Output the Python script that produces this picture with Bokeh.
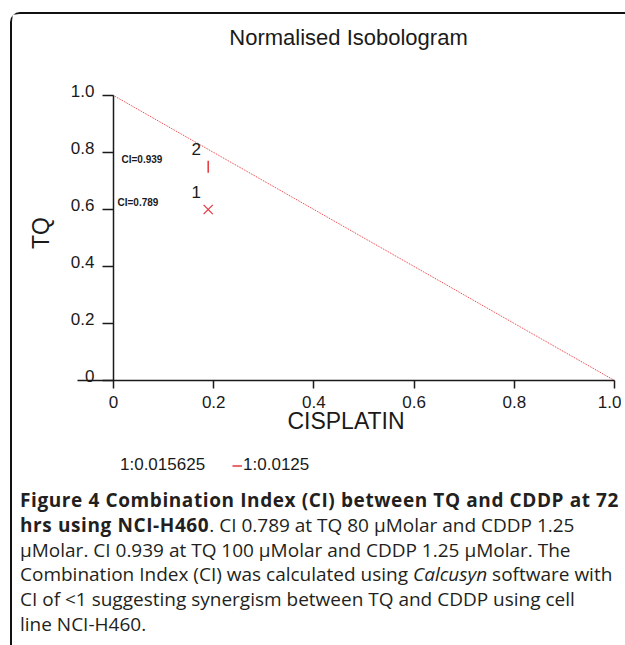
import math
from bokeh.plotting import figure
from bokeh.models import (FixedTicker, Legend, LegendItem, Div, Label,
                          LinearAxis, Range1d)
from bokeh.layouts import column
from bokeh.core.properties import value
from bokeh.embed import file_html
from bokeh.resources import INLINE

# ---------------- data ----------------
title_text = "Normalised Isobologram"
x_label = "CISPLATIN"
y_label = "TQ"
tick_values = [0, 0.2, 0.4, 0.6, 0.8, 1.0]
tick_labels = ["0", "0.2", "0.4", "0.6", "0.8", "1.0"]
isobole_x = [0.0, 1.0]
isobole_y = [1.0, 0.0]
point_ids = ["1", "2"]
cisplatin = [0.189, 0.189]
tq = [0.600, 0.750]
ci_labels = ["CI=0.789", "CI=0.939"]
ratios = ["1:0.015625", "1:0.0125"]

caption_bold = "Figure 4 Combination Index (CI) between TQ and CDDP at 72<br>hrs using NCI-H460"
caption_rest = (". CI 0.789 at TQ 80 \u00b5Molar and CDDP 1.25<br>"
                "\u00b5Molar. CI 0.939 at TQ 100 \u00b5Molar and CDDP 1.25 \u00b5Molar. The<br>"
                "Combination Index (CI) was calculated using <i>Calcusyn</i> software with<br>"
                "CI of &lt;1 suggesting synergism between TQ and CDDP using cell<br>"
                "line NCI-H460.")

# ---------------- style / layout ----------------
RED = "#e8343a"
INK = "#1a1a1a"
FONT = "Liberation Sans"

W, H = 609, 469
X0_PX, X_PX = 101, 501      # canvas x of data x=0, pixels per unit
Y0_PX, Y_PX = 366, 285      # canvas y of data y=0, pixels per unit
y_start, y_end = -(H - Y0_PX) / Y_PX, Y0_PX / Y_PX
lab_shift = 5 / Y_PX        # tick labels sit a little above their ticks

p = figure(width=W, height=H,
           x_range=(-X0_PX / X_PX, (W - X0_PX) / X_PX),
           y_range=(y_start, y_end),
           output_backend="svg", toolbar_location=None,
           min_border_left=0, min_border_right=0, min_border_top=0,
           min_border_bottom=0)
p.extra_y_ranges = {"labels": Range1d(y_start - lab_shift, y_end - lab_shift)}
p.background_fill_color = "white"
p.border_fill_color = "white"
p.outline_line_color = None
p.xgrid.visible = False
p.ygrid.visible = False

tick_map = {v: s for v, s in zip(tick_values, tick_labels)}


def style_axis(ax):
    ax.ticker = FixedTicker(ticks=tick_values)
    ax.major_label_overrides = tick_map
    ax.minor_tick_line_color = None
    ax.major_tick_in = 0
    ax.axis_line_color = INK
    ax.axis_line_width = 1.5
    ax.major_tick_line_color = INK
    ax.major_tick_line_width = 1.5
    ax.major_label_text_font = FONT
    ax.major_label_text_font_size = "17px"
    ax.major_label_text_color = INK
    ax.axis_label_text_font = FONT
    ax.axis_label_text_font_size = "23px"
    ax.axis_label_text_font_style = "normal"
    ax.axis_label_text_color = INK


xa = p.xaxis[0]
style_axis(xa)
xa.axis_label = x_label
xa.fixed_location = 0
xa.bounds = (-0.072, 1.0)
xa.major_tick_out = 8
xa.major_label_standoff = 7
xa.axis_label_standoff = -3

# TQ axis: line and ticks
ya = p.yaxis[0]
style_axis(ya)
ya.fixed_location = 0
ya.bounds = (0, 1.0)
ya.major_tick_out = 11
ya.major_label_text_color = None

# TQ axis: tick labels and title (same ticks, labels raised slightly)
ylab = LinearAxis(y_range_name="labels")
style_axis(ylab)
ylab.fixed_location = 0
ylab.bounds = (0, 1.0)
ylab.axis_line_color = None
ylab.major_tick_line_color = None
ylab.major_tick_out = 11
ylab.major_label_standoff = 8
ylab.axis_label = y_label
ylab.axis_label_standoff = 14
p.add_layout(ylab, "left")

# title
p.add_layout(Label(x=336, y=H - 23, x_units="screen", y_units="screen",
                   text=title_text, text_align="center", text_baseline="middle",
                   text_font=FONT, text_font_size="22px", text_color=INK))

# isobole
p.line(isobole_x, isobole_y, line_color=RED, line_width=1, line_dash="1 1")

# data points
p.scatter(cisplatin[:1], tq[:1], marker="x", size=13, line_color=RED, line_width=1.2)
p.scatter(cisplatin[1:], tq[1:], marker="dash", angle=math.pi / 2, size=12,
          line_color=RED, line_width=1.5)

# point numbers
p.text(cisplatin, tq, text=point_ids, x_offset=-12, y_offset=-18,
       text_align="center", text_baseline="middle", text_font=value(FONT),
       text_font_size="17px", text_color=INK)

# CI annotations next to the TQ axis
ci_dx = [4, 8]
for i in range(len(ci_labels)):
    p.text([0], [tq[i]], text=[ci_labels[i]], x_offset=ci_dx[i], y_offset=-7,
           text_align="left", text_baseline="middle",
           text_font=value(FONT), text_font_style="bold",
           text_font_size="10px", text_color=INK)

# legend of dose ratios
nan = float("nan")
r0 = p.line(x=[nan], y=[nan], line_alpha=0)
r1 = p.line(x=[nan], y=[nan], line_color=RED, line_width=1.5)
legend = Legend(items=[LegendItem(label=ratios[0], renderers=[r0]),
                       LegendItem(label=ratios[1], renderers=[r1])],
                orientation="horizontal", location=(97, 8),
                glyph_width=10, glyph_height=17, label_standoff=1, spacing=27,
                padding=0, margin=0, border_line_color=None,
                background_fill_alpha=0, label_text_font=FONT,
                label_text_font_size="17px", label_text_color=INK)
p.add_layout(legend)

html = ('<div style="padding-left:3px; font-family:\'Open Sans\'; font-size:19px; '
        'line-height:24.8px; white-space:nowrap; color:#231f20;">'
        '<b style="letter-spacing:0.6px;">' + caption_bold + '</b>' + caption_rest + '</div>')
div = Div(text=html, width=W, height=160)

layout = column(p, div, styles={
    "border-left": "2px solid #111",
    "border-top": "2px solid #111",
    "border-top-left-radius": "10px",
    "margin-left": "10px",
    "margin-top": "12px",
})

open("out.html", "w").write(file_html(layout, INLINE))
